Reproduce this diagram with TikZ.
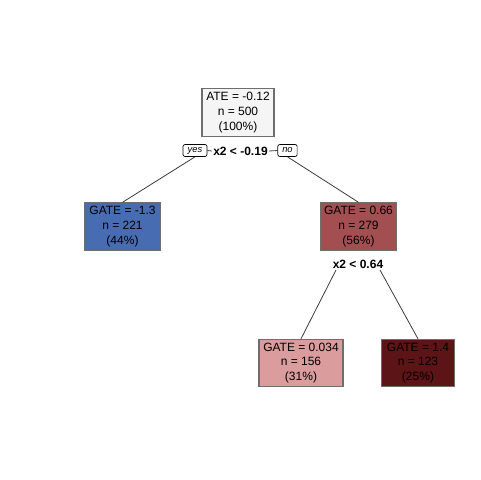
\documentclass[tikz,border=0pt]{standalone}
\usepackage{fontspec}
\setmainfont{Liberation Sans}
\begin{document}
\definecolor{rootfill}{HTML}{F5F5F5}
\definecolor{bluefill}{HTML}{486CB2}
\definecolor{redfill}{HTML}{A34F52}
\definecolor{pinkfill}{HTML}{DB9C9D}
\definecolor{darkfill}{HTML}{5C1417}
\definecolor{boxline}{HTML}{6E6E6E}
\definecolor{edgeline}{HTML}{3C3C3C}
\begin{tikzpicture}[x=0.75pt,y=-0.75pt,
  leaf/.style={draw=boxline,line width=0.8pt,align=center,inner sep=0pt,
    minimum height=35.5pt,font=\fontsize{9}{11}\selectfont},
  splitlabel/.style={inner sep=0.8pt,font=\fontsize{9}{10}\selectfont\bfseries},
  tag/.style={draw=black,line width=0.5pt,rounded corners=1.5pt,fill=white,
    inner sep=0pt,minimum height=9pt,font=\fontsize{7}{8}\selectfont\itshape},
  branch/.style={draw=edgeline,line width=0.6pt}]
\useasboundingbox (0,0) rectangle (480,480);
\fill[white] (0,0) rectangle (480,480);

% tree nodes
\node[leaf,fill=rootfill,minimum width=54pt] (root) at (238,112.5) {ATE = -0.12\\n = 500\\(100\%)};
\node[leaf,fill=bluefill,minimum width=57.5pt] (left) at (122.5,226.5) {GATE = -1.3\\n = 221\\(44\%)};
\node[leaf,fill=redfill,minimum width=57.5pt] (right) at (358.5,226.5) {GATE = 0.66\\n = 279\\(56\%)};
\node[leaf,fill=pinkfill,minimum width=63pt] (bl) at (301,363) {GATE = 0.034\\n = 156\\(31\%)};
\node[leaf,fill=darkfill,minimum width=55pt] (br) at (418,363) {GATE = 1.4\\n = 123\\(25\%)};

% first split with yes / no tags
\node[splitlabel] (s1) at (240.5,151) {x2 < -0.19};
\node[tag,minimum width=18pt] (yes) at (195,150.5) {yes};
\node[tag,minimum width=14.5pt] (no) at (287.5,150.5) {no};
\draw[branch] (yes.east) -- (s1.west);
\draw[branch] (s1.east) -- (no.west);
\draw[branch] (yes.south) -- (left.north);
\draw[branch] (no.south) -- (right.north);

% second split
\node[splitlabel] (s2) at (358,264) {x2 < 0.64};
\coordinate (s2l) at (336,270);
\coordinate (s2r) at (380,270);
\draw[branch] (s2l) -- (bl.north);
\draw[branch] (s2r) -- (br.north);
\end{tikzpicture}
\end{document}
